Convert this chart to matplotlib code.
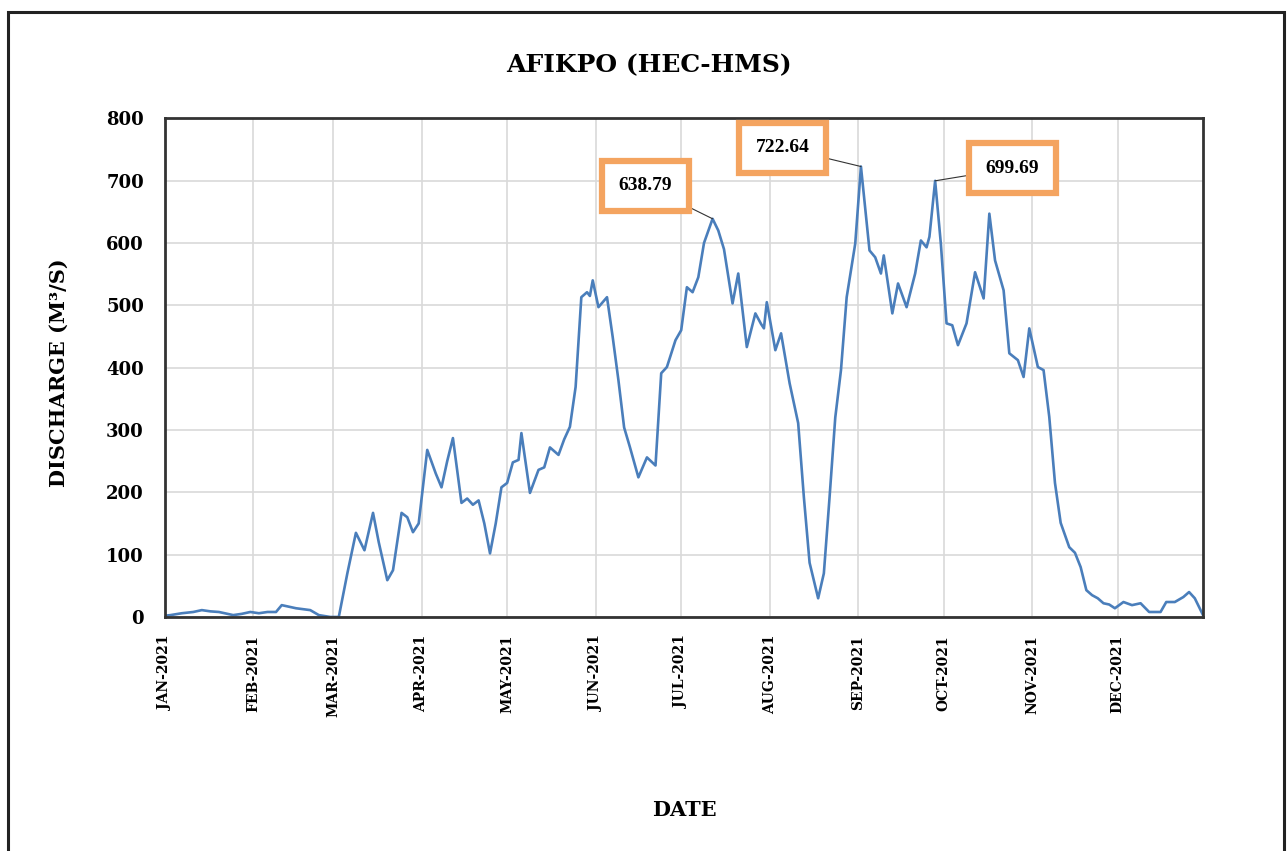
"""
AFIKPO discharge hydrograph (HEC-HMS)
"""

import matplotlib
matplotlib.use('Agg')
import matplotlib.pyplot as plt
from matplotlib.patches import Rectangle
import pandas as pd

day_offset = [0, 2, 6, 10, 13, 16, 19, 24, 27, 30, 33, 36, 39, 41, 43, 46,
              51, 54, 58, 61, 64, 67, 70, 73, 75, 78, 80, 83, 85, 87, 89, 92,
              95, 97, 99, 101, 104, 106, 108, 110, 112, 114, 116, 118, 120,
              122, 124, 125, 128, 131, 133, 135, 138, 140, 142, 144, 146, 148,
              149, 150, 152, 155, 157, 159, 161, 163, 166, 169, 172, 174, 176,
              179, 181, 183, 185, 187, 189, 192, 194, 196, 199, 201, 204, 207,
              209, 210, 211, 214, 216, 219, 222, 224, 226, 229, 231, 233, 235,
              237, 239, 242, 244, 247, 249, 251, 252, 255, 257, 260, 263, 265,
              267, 268, 270, 272, 274, 276, 278, 281, 284, 287, 289, 291, 294,
              296, 299, 301, 303, 306, 308, 310, 312, 314, 317, 319, 321, 323,
              325, 327, 329, 331, 333, 336, 339, 342, 345, 349, 351, 354, 357,
              359, 361, 364]
discharge = [2, 3, 6, 8, 11, 9, 8, 3, 5, 8, 6, 8, 8, 19, 17, 14,
             11, 3, 0, 0, 70, 135, 107, 167, 120, 59, 75, 167, 160, 136, 150,
             268, 230, 208, 250, 287, 183, 190, 180, 187, 150, 102, 150, 208,
             215, 248, 252, 295, 199, 236, 240, 272, 260, 285, 305, 369, 513,
             521, 515, 540, 497, 513, 449, 380, 304, 273, 224, 256, 243, 391,
             401, 444, 460, 529, 521, 545, 600, 638.79, 620, 590, 503, 551, 433,
             487, 470, 463, 505, 428, 455, 375, 311, 192, 87, 30, 70, 192, 320,
             396, 513, 599, 722.64, 588, 577, 551, 580, 487, 535, 497, 551, 604,
             593, 610, 699.69, 599, 471, 468, 436, 471, 553, 511, 647, 572, 524,
             423, 412, 385, 463, 401, 396, 321, 215, 151, 112, 103, 80, 43,
             35, 30, 22, 20, 14, 24, 19, 22, 8, 8, 24, 24, 32,
             40, 30, 2]

month_labels = ['JAN-2021', 'FEB-2021', 'MAR-2021', 'APR-2021', 'MAY-2021',
                'JUN-2021', 'JUL-2021', 'AUG-2021', 'SEP-2021', 'OCT-2021',
                'NOV-2021', 'DEC-2021']

# Peak labels: value, day of the peak, day and value of the label box.
peak_values = [638.79, 722.64, 699.69]
peak_days = [192, 244, 270]
box_days = [168.5, 216.5, 297.0]
box_values = [692, 753, 720]

start = pd.Timestamp('2021-01-01')
dates = start + pd.to_timedelta(day_offset, unit='D')

FONT = 'DejaVu Serif'
NUM_FONT = 'Liberation Serif'

fig = plt.figure(figsize=(12.87, 8.51), dpi=100)
ax = fig.add_axes([0.128, 0.275, 0.807, 0.586])

ax.plot(dates, discharge, color='#4a7ebb', linewidth=1.9)

# Axis limits, ticks and grid.
ax.set_xlim(start, pd.Timestamp('2021-12-31'))
ax.set_ylim(0, 800)
ax.set_yticks(range(0, 801, 100))
month_starts = pd.date_range('2021-01-01', periods=12, freq='MS')
ax.set_xticks(month_starts)
ax.set_xticklabels(month_labels, rotation=90, fontfamily=FONT,
                   fontweight='bold', fontsize=10)
for lab in ax.get_yticklabels():
    lab.set_fontfamily(FONT)
    lab.set_fontweight('bold')
    lab.set_fontsize(13)
ax.tick_params(axis='x', length=0, pad=13)
ax.tick_params(axis='y', length=0, pad=15)
ax.grid(True, color='#d9d9d9', linewidth=1.2)
ax.set_axisbelow(True)
for spine in ax.spines.values():
    spine.set_linewidth(2)
    spine.set_color('#333333')

# Labels and title.
ax.set_xlabel('DATE', fontfamily=FONT, fontweight='bold', fontsize=15)
ax.xaxis.set_label_coords(0.5, -0.368)
ax.set_ylabel('DISCHARGE (M³/S)', fontfamily=FONT, fontweight='bold',
              fontsize=15)
ax.yaxis.set_label_coords(-0.092, 0.49)
fig.text(0.504, 0.923, 'AFIKPO (HEC-HMS)', ha='center', va='center',
         fontfamily=FONT, fontweight='bold', fontsize=18)

# Peak annotations in orange boxes.
for val, pday, bday, bval in zip(peak_values, peak_days, box_days, box_values):
    ax.annotate(f'{val:.2f}',
                xy=(start + pd.Timedelta(days=pday), val),
                xytext=(start + pd.Timedelta(days=bday), bval),
                ha='center', va='center', fontfamily=NUM_FONT,
                fontweight='bold', fontsize=14,
                bbox=dict(boxstyle='square,pad=0.85', facecolor='white',
                          edgecolor='#f4a460', linewidth=4.5),
                arrowprops=dict(arrowstyle='-', color='#333333',
                                linewidth=0.8, shrinkA=0, shrinkB=0))

# Outer frame of the chart area.
fig.patches.append(Rectangle((0.006, -0.02), 0.992, 1.006,
                             transform=fig.transFigure, fill=False,
                             edgecolor='#222222', linewidth=2.2))

plt.savefig('out.png', dpi=100)
